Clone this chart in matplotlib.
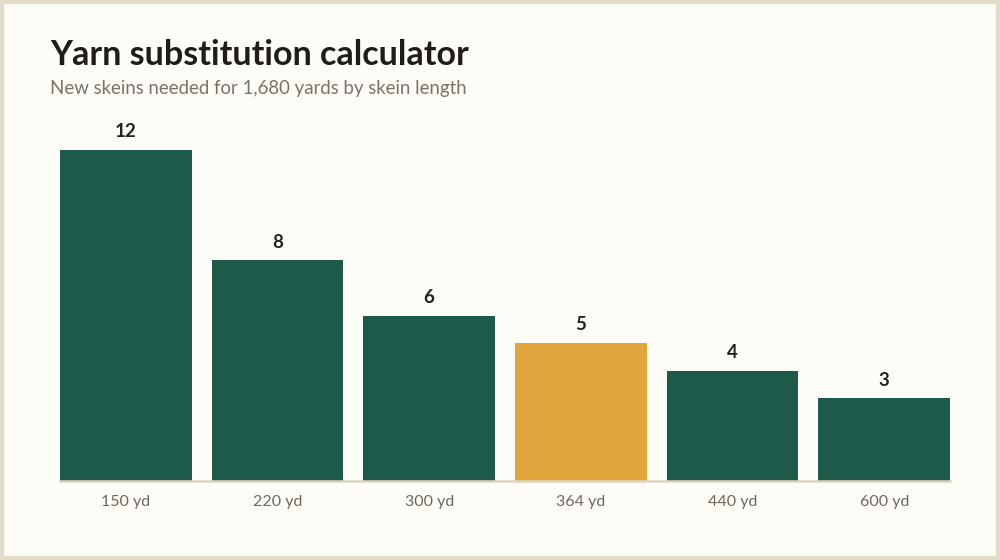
import matplotlib.pyplot as plt
from matplotlib.patches import Rectangle

# Skein lengths and skeins needed
labels = ['150 yd', '220 yd', '300 yd', '364 yd', '440 yd', '600 yd']
skeins = [12, 8, 6, 5, 4, 3]
highlight = '364 yd'

plt.rcParams['font.family'] = ['Lato', 'DejaVu Sans']

bg = '#fdfcf7'
green = '#1d5a4a'
gold = '#e0a53b'

fig = plt.figure(figsize=(10, 5.6), dpi=100, facecolor=bg)
ax = fig.add_axes([0.06, 0.141, 0.89, 0.591])
ax.set_facecolor(bg)

x = range(len(labels))
colors = [gold if l == highlight else green for l in labels]
bars = ax.bar(x, skeins, width=0.867, color=colors)

for b, v in zip(bars, skeins):
    ax.annotate(str(v), (b.get_x() + b.get_width() / 2, v), xytext=(0, 7),
                textcoords='offset points', ha='center', va='bottom',
                fontsize=13.5, fontweight='bold', color='#222222', annotation_clip=False)

ax.set_xlim(-0.4335, 5.4335)
ax.set_ylim(0, 12)
ax.set_xticks(list(x))
ax.set_xticklabels(labels, fontsize=11.5, color='#6e675e')
ax.tick_params(axis='x', length=0, pad=10)
ax.set_yticks([])
for s in ['top', 'right', 'left']:
    ax.spines[s].set_visible(False)
ax.spines['bottom'].set_color('#ddd5c5')
ax.spines['bottom'].set_linewidth(1.8)

fig.text(0.05, 0.9015, 'Yarn substitution calculator', fontsize=24.5, fontweight='bold',
         color='#1f1c1a', ha='left', va='center')
fig.text(0.05, 0.8415, 'New skeins needed for 1,680 yards by skein length', fontsize=13.4,
         color='#7a736a', ha='left', va='center')

fig.patches.append(Rectangle((0, 0), 1, 1, transform=fig.transFigure, fill=False,
                             edgecolor='#e3dbcb', linewidth=6, zorder=10))

fig.savefig('out.png', dpi=100, facecolor=bg)
